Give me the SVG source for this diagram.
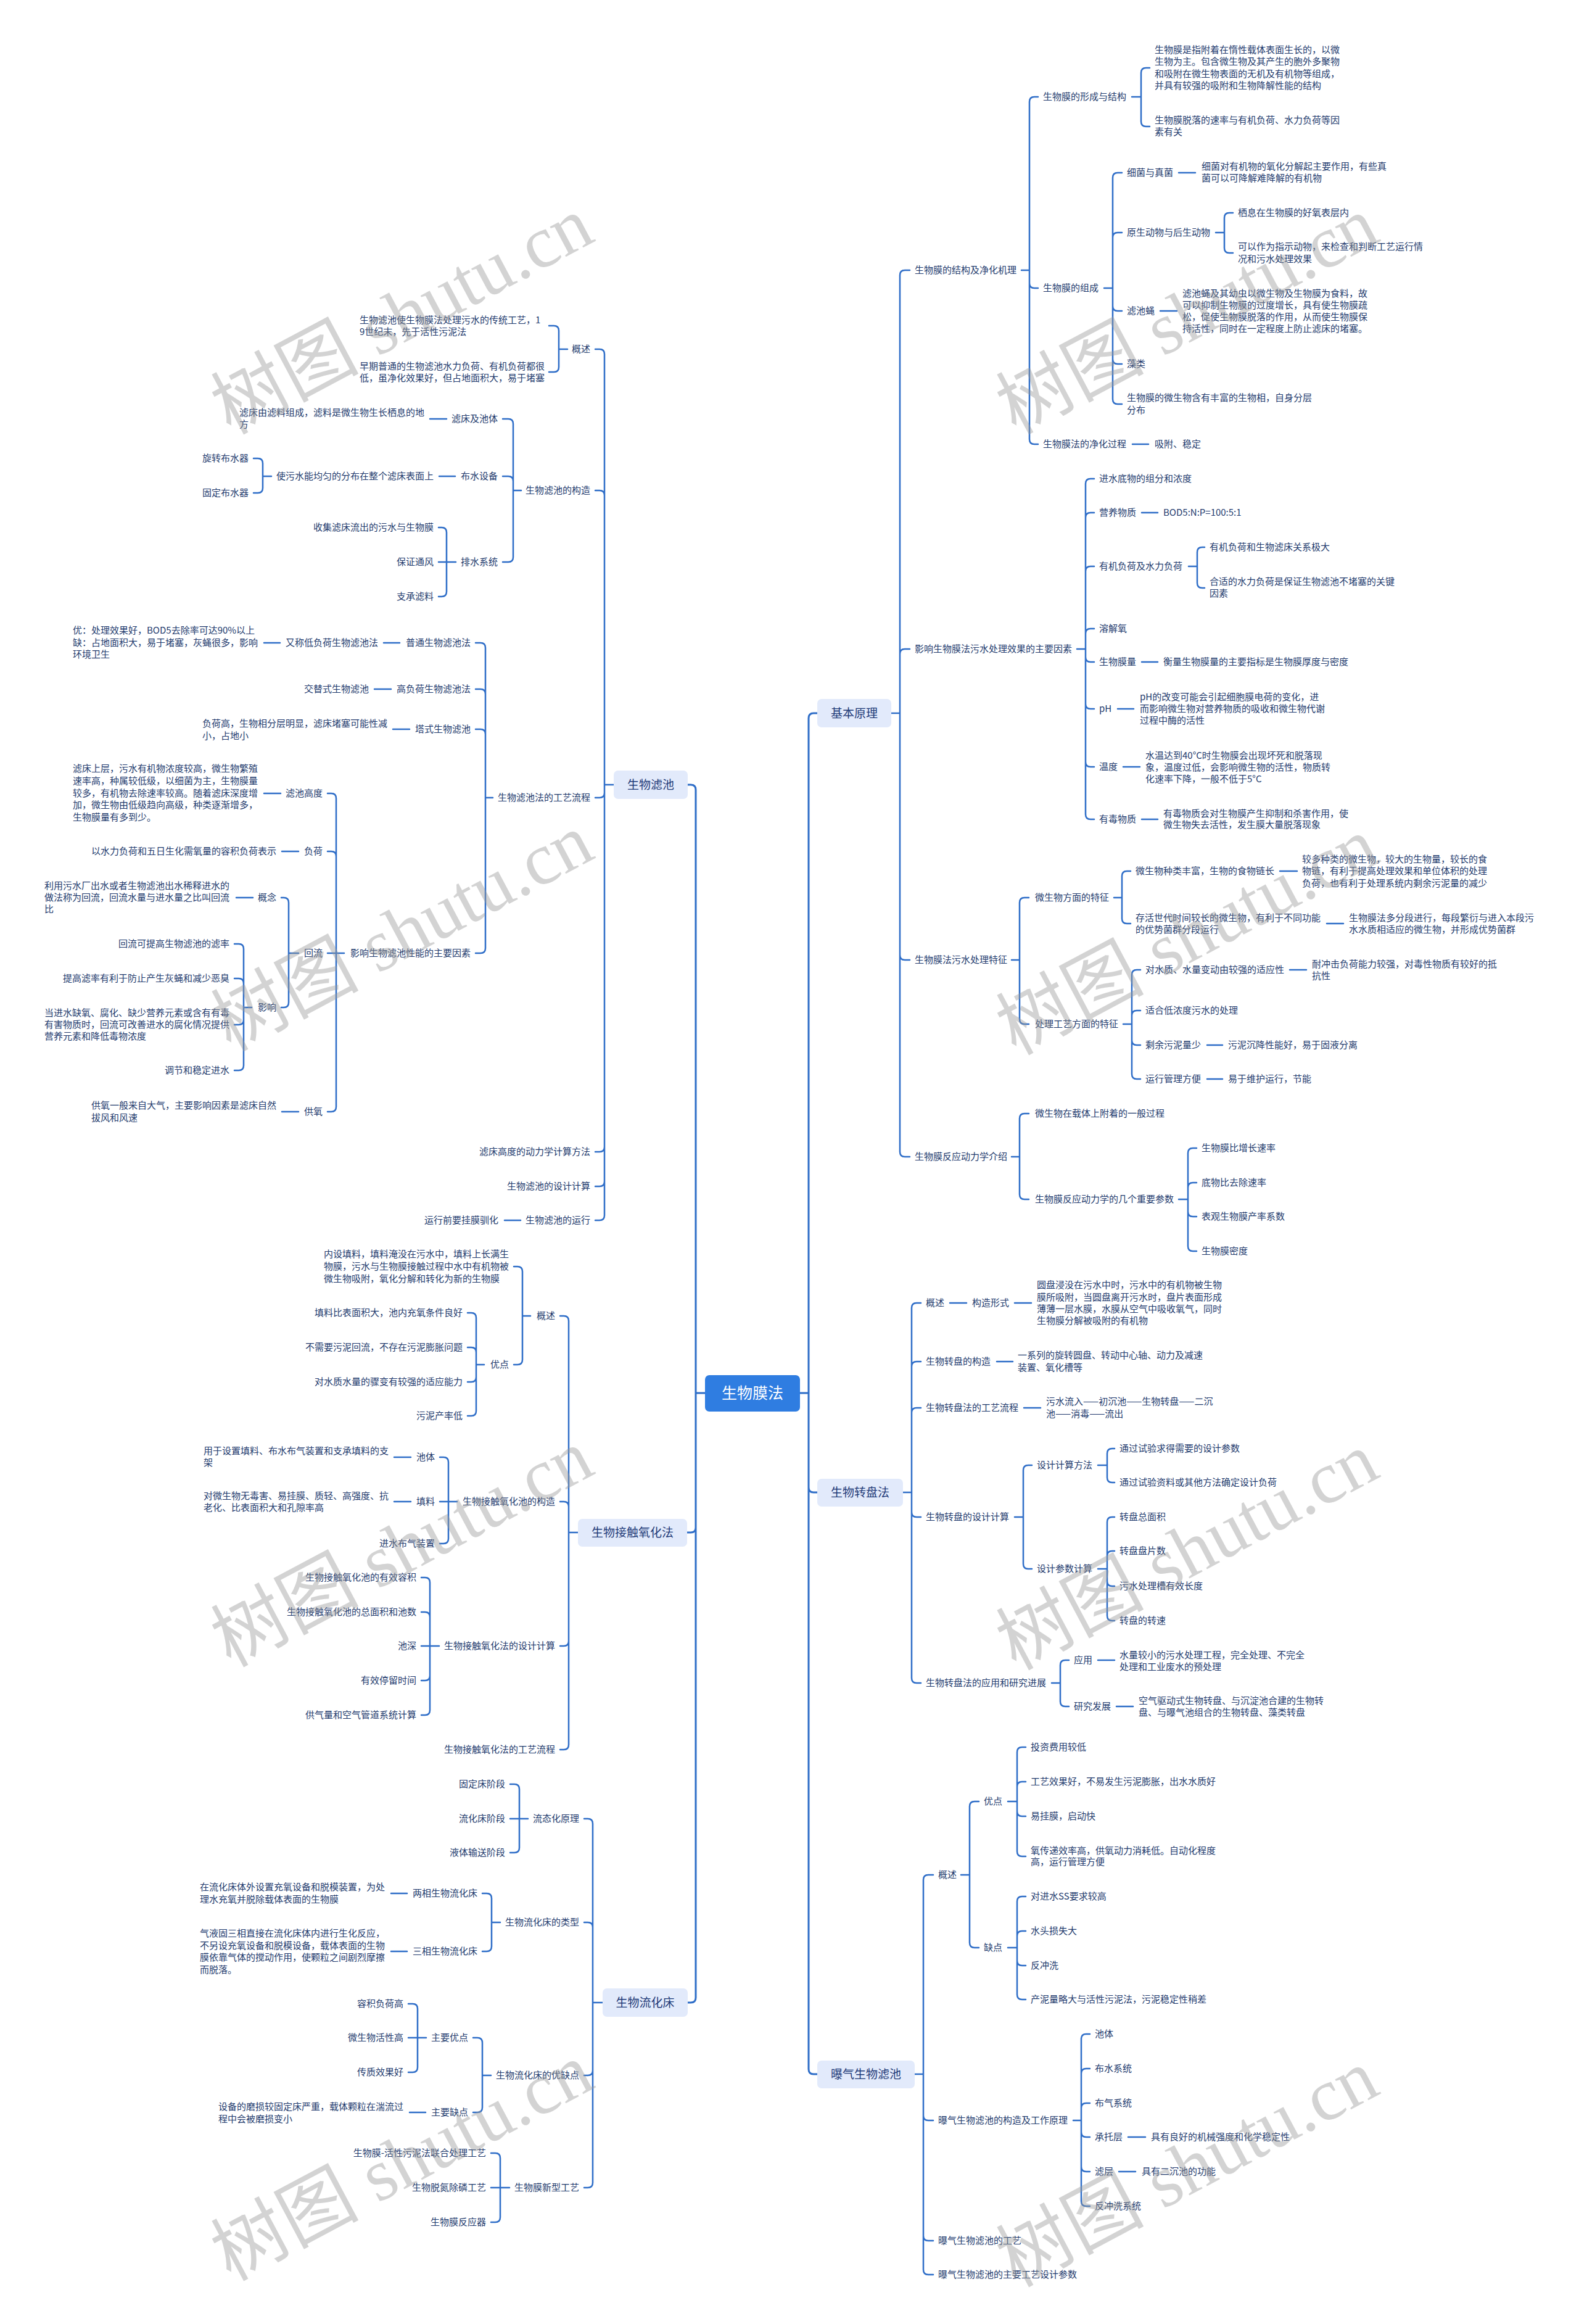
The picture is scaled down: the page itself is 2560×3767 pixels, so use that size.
<svg xmlns="http://www.w3.org/2000/svg" width="2560" height="3767" viewBox="0 0 2560 3767">
<style>
.t{font-family:"Noto Sans CJK SC","Noto Sans",sans-serif;font-size:15px;fill:#233b6e}
.e{text-anchor:end}
.b{font-family:"Noto Sans CJK SC","Noto Sans",sans-serif;font-size:19px;fill:#1f3a78;text-anchor:middle}
.m{font-family:"Noto Sans CJK SC","Noto Sans",sans-serif;font-size:25px;fill:#ffffff;text-anchor:middle}
.bx{fill:#e2eafb}
.c{fill:none;stroke:#2f6ec8;stroke-width:2.5;stroke-linecap:round}
.c3{fill:none;stroke:#2f6ec8;stroke-width:3;stroke-linecap:round}
.w{font-family:"Liberation Serif","Noto Sans CJK SC",serif;font-size:120px;fill:#999999;opacity:0.42;text-anchor:middle}
</style>
<rect x="0" y="0" width="2560" height="3767" fill="#ffffff"/>
<g id="connectors">
<path class="c3" d="M1143 2258 H1128 M1115 1272 H1120 Q1128 1272 1128 1280 V2258 M1114 2484 H1120 Q1128 2484 1128 2476 V2258 M1115 3246 H1120 Q1128 3246 1128 3238 V2258"/>
<path class="c3" d="M1297 2258 H1311 M1325 1156 H1319 Q1311 1156 1311 1164 V2258 M1325 2419 H1319 Q1311 2419 1311 2411 V2258 M1325 3362 H1319 Q1311 3362 1311 3354 V2258"/>
<path class="c" d="M980 1272 H995 M965 566 H972 Q980 566 980 574 V1272 M965 795 H972 Q980 795 980 803 V1272 M965 1293 H972 Q980 1293 980 1285 V1272 M965 1867 H972 Q980 1867 980 1859 V1272 M965 1923 H972 Q980 1923 980 1915 V1272 M965 1978 H972 Q980 1978 980 1970 V1272"/>
<path class="c" d="M906 566 H920 M890 528 H898 Q906 528 906 536 V566 M890 603 H898 Q906 603 906 595 V566"/>
<path class="c" d="M832 795 H845 M815 679 H824 Q832 679 832 687 V795 M815 772 H824 Q832 772 832 780 V795 M815 911 H824 Q832 911 832 903 V795 M724 679 H697 M738 772 H712"/>
<path class="c" d="M426 772 H440 M411 743 H418 Q426 743 426 751 V772 M411 799 H418 Q426 799 426 791 V772"/>
<path class="c" d="M724 911 H739 M711 855 H716 Q724 855 724 863 V911 M711 911 H724 M711 967 H716 Q724 967 724 959 V911"/>
<path class="c" d="M787 1293 H799 M771 1042 H779 Q787 1042 787 1050 V1293 M771 1117 H779 Q787 1117 787 1125 V1293 M771 1182 H779 Q787 1182 787 1190 V1293 M771 1545 H779 Q787 1545 787 1537 V1293 M648 1042 H622 M454 1042 H428 M634 1117 H607 M664 1182 H637"/>
<path class="c" d="M545 1545 H558 M531 1286 H537 Q545 1286 545 1294 V1545 M531 1380 H537 Q545 1380 545 1388 V1545 M531 1545 H545 M531 1802 H537 Q545 1802 545 1794 V1545 M455 1286 H428 M484 1380 H457 M484 1802 H457"/>
<path class="c" d="M468 1545 H484 M456 1455 H460 Q468 1455 468 1463 V1545 M456 1633 H460 Q468 1633 468 1625 V1545 M410 1455 H383"/>
<path class="c" d="M395 1633 H408 M380 1530 H387 Q395 1530 395 1538 V1633 M380 1586 H387 Q395 1586 395 1594 V1633 M380 1661 H387 Q395 1661 395 1653 V1633 M380 1735 H387 Q395 1735 395 1727 V1633"/>
<path class="c" d="M844 1978 H818"/>
<path class="c" d="M922 2484 H937 M908 2133 H914 Q922 2133 922 2141 V2484 M908 2434 H914 Q922 2434 922 2442 V2484 M908 2668 H914 Q922 2668 922 2660 V2484 M908 2836 H914 Q922 2836 922 2828 V2484"/>
<path class="c" d="M847 2133 H860 M833 2053 H839 Q847 2053 847 2061 V2133 M833 2212 H839 Q847 2212 847 2204 V2133"/>
<path class="c" d="M772 2212 H785 M758 2128 H764 Q772 2128 772 2136 V2212 M758 2184 H764 Q772 2184 772 2192 V2212 M758 2240 H764 Q772 2240 772 2232 V2212 M758 2295 H764 Q772 2295 772 2287 V2212"/>
<path class="c" d="M727 2434 H741 M713 2362 H719 Q727 2362 727 2370 V2434 M713 2434 H727 M713 2502 H719 Q727 2502 727 2494 V2434 M666 2362 H639 M666 2434 H639"/>
<path class="c" d="M697 2668 H712 M683 2557 H689 Q697 2557 697 2565 V2668 M683 2613 H689 Q697 2613 697 2621 V2668 M683 2668 H697 M683 2724 H689 Q697 2724 697 2716 V2668 M683 2780 H689 Q697 2780 697 2772 V2668"/>
<path class="c" d="M961 3246 H977 M947 2948 H953 Q961 2948 961 2956 V3246 M947 3116 H953 Q961 3116 961 3124 V3246 M947 3364 H953 Q961 3364 961 3356 V3246 M947 3546 H953 Q961 3546 961 3538 V3246"/>
<path class="c" d="M842 2948 H856 M827 2892 H834 Q842 2892 842 2900 V2948 M827 2948 H842 M827 3003 H834 Q842 3003 842 2995 V2948"/>
<path class="c" d="M797 3116 H811 M782 3069 H789 Q797 3069 797 3077 V3116 M782 3163 H789 Q797 3163 797 3155 V3116 M660 3069 H634 M660 3163 H634"/>
<path class="c" d="M782 3364 H796 M767 3303 H774 Q782 3303 782 3311 V3364 M767 3424 H774 Q782 3424 782 3416 V3364 M690 3424 H664"/>
<path class="c" d="M677 3303 H691 M662 3248 H669 Q677 3248 677 3256 V3303 M662 3303 H677 M662 3359 H669 Q677 3359 677 3351 V3303"/>
<path class="c" d="M811 3546 H826 M796 3490 H803 Q811 3490 811 3498 V3546 M796 3546 H811 M796 3602 H803 Q811 3602 811 3594 V3546"/>
<path class="c" d="M1445 1156 H1459 M1459 1156 V446 Q1459 438 1467 438 H1475 M1459 1156 V1060 Q1459 1052 1467 1052 H1475 M1459 1156 V1548 Q1459 1556 1467 1556 H1475 M1459 1156 V1867 Q1459 1875 1467 1875 H1475"/>
<path class="c" d="M1656 438 H1669 M1669 438 V165 Q1669 157 1677 157 H1683 M1669 438 V459 Q1669 467 1677 467 H1683 M1669 438 V712 Q1669 720 1677 720 H1683 M1836 720 H1862"/>
<path class="c" d="M1835 157 H1850 M1850 157 V118 Q1850 110 1858 110 H1864 M1850 157 V197 Q1850 205 1858 205 H1864"/>
<path class="c" d="M1790 467 H1804 M1804 467 V288 Q1804 280 1812 280 H1819 M1804 467 V385 Q1804 377 1812 377 H1819 M1804 467 V496 Q1804 504 1812 504 H1819 M1804 467 V582 Q1804 590 1812 590 H1819 M1804 467 V647 Q1804 655 1812 655 H1819 M1911 280 H1938 M1881 504 H1908"/>
<path class="c" d="M1971 377 H1985 M1985 377 V353 Q1985 345 1993 345 H1999 M1985 377 V402 Q1985 410 1993 410 H1999"/>
<path class="c" d="M1746 1052 H1760 M1760 1052 V784 Q1760 776 1768 776 H1774 M1760 1052 V839 Q1760 831 1768 831 H1774 M1760 1052 V926 Q1760 918 1768 918 H1774 M1760 1052 V1027 Q1760 1019 1768 1019 H1774 M1760 1052 V1065 Q1760 1073 1768 1073 H1774 M1760 1052 V1141 Q1760 1149 1768 1149 H1774 M1760 1052 V1235 Q1760 1243 1768 1243 H1774 M1760 1052 V1320 Q1760 1328 1768 1328 H1774 M1851 831 H1877 M1851 1073 H1877 M1812 1149 H1838 M1821 1243 H1848 M1851 1328 H1877"/>
<path class="c" d="M1927 918 H1941 M1941 918 V895 Q1941 887 1949 887 H1953 M1941 918 V945 Q1941 953 1949 953 H1953"/>
<path class="c" d="M1640 1556 H1653 M1653 1556 V1463 Q1653 1455 1661 1455 H1668 M1653 1556 V1652 Q1653 1660 1661 1660 H1668"/>
<path class="c" d="M1806 1455 H1819 M1819 1455 V1420 Q1819 1412 1827 1412 H1833 M1819 1455 V1489 Q1819 1497 1827 1497 H1833 M2075 1412 H2103 M2151 1497 H2178"/>
<path class="c" d="M1821 1660 H1835 M1835 1660 V1580 Q1835 1572 1843 1572 H1849 M1835 1660 V1646 Q1835 1638 1843 1638 H1849 M1835 1660 V1686 Q1835 1694 1843 1694 H1849 M1835 1660 V1741 Q1835 1749 1843 1749 H1849 M2091 1572 H2118 M1957 1694 H1982 M1957 1749 H1982"/>
<path class="c" d="M1640 1875 H1653 M1653 1875 V1813 Q1653 1805 1661 1805 H1668 M1653 1875 V1936 Q1653 1944 1661 1944 H1668"/>
<path class="c" d="M1911 1944 H1926 M1926 1944 V1869 Q1926 1861 1934 1861 H1940 M1926 1944 V1925 Q1926 1917 1934 1917 H1940 M1926 1944 V1964 Q1926 1972 1934 1972 H1940 M1926 1944 V2020 Q1926 2028 1934 2028 H1940"/>
<path class="c" d="M1464 2419 H1478 M1478 2419 V2120 Q1478 2112 1486 2112 H1493 M1478 2419 V2215 Q1478 2207 1486 2207 H1493 M1478 2419 V2290 Q1478 2282 1486 2282 H1493 M1478 2419 V2451 Q1478 2459 1486 2459 H1493 M1478 2419 V2720 Q1478 2728 1486 2728 H1493 M1540 2112 H1567 M1645 2112 H1672 M1616 2207 H1642 M1660 2282 H1687"/>
<path class="c" d="M1645 2459 H1659 M1659 2459 V2383 Q1659 2375 1667 2375 H1673 M1659 2459 V2535 Q1659 2543 1667 2543 H1673"/>
<path class="c" d="M1780 2375 H1795 M1795 2375 V2356 Q1795 2348 1803 2348 H1807 M1795 2375 V2395 Q1795 2403 1803 2403 H1807"/>
<path class="c" d="M1780 2543 H1795 M1795 2543 V2467 Q1795 2459 1803 2459 H1807 M1795 2543 V2522 Q1795 2514 1803 2514 H1807 M1795 2543 V2563 Q1795 2571 1803 2571 H1807 M1795 2543 V2619 Q1795 2627 1803 2627 H1807"/>
<path class="c" d="M1705 2728 H1719 M1719 2728 V2699 Q1719 2691 1727 2691 H1733 M1719 2728 V2758 Q1719 2766 1727 2766 H1733 M1780 2691 H1807 M1810 2766 H1837"/>
<path class="c" d="M1483 3362 H1497 M1497 3362 V3047 Q1497 3039 1505 3039 H1513 M1497 3362 V3429 Q1497 3437 1505 3437 H1513 M1497 3362 V3624 Q1497 3632 1505 3632 H1513 M1497 3362 V3679 Q1497 3687 1505 3687 H1513"/>
<path class="c" d="M1558 3039 H1572 M1572 3039 V2928 Q1572 2920 1580 2920 H1587 M1572 3039 V3149 Q1572 3157 1580 3157 H1587"/>
<path class="c" d="M1634 2920 H1649 M1649 2920 V2840 Q1649 2832 1657 2832 H1663 M1649 2920 V2896 Q1649 2888 1657 2888 H1663 M1649 2920 V2936 Q1649 2944 1657 2944 H1663 M1649 2920 V3001 Q1649 3009 1657 3009 H1663"/>
<path class="c" d="M1634 3157 H1649 M1649 3157 V3082 Q1649 3074 1657 3074 H1663 M1649 3157 V3138 Q1649 3130 1657 3130 H1663 M1649 3157 V3178 Q1649 3186 1657 3186 H1663 M1649 3157 V3233 Q1649 3241 1657 3241 H1663"/>
<path class="c" d="M1740 3437 H1753 M1753 3437 V3305 Q1753 3297 1761 3297 H1767 M1753 3437 V3361 Q1753 3353 1761 3353 H1767 M1753 3437 V3417 Q1753 3409 1761 3409 H1767 M1753 3437 V3456 Q1753 3464 1761 3464 H1767 M1753 3437 V3512 Q1753 3520 1761 3520 H1767 M1753 3437 V3568 Q1753 3576 1761 3576 H1767 M1829 3464 H1857 M1814 3520 H1841"/>
</g>
<g id="root"><rect x="1143" y="2229" width="154" height="59" rx="7" fill="#2f7de1"/><text class="m" x="1220" y="2267">生物膜法</text></g>
<g id="b1"><rect class="bx" x="995" y="1249" width="120" height="46" rx="7"/><text class="b" x="1055" y="1279">生物滤池</text></g>
<g id="b2"><rect class="bx" x="937" y="2462" width="177" height="45" rx="7"/><text class="b" x="1025.5" y="2491">生物接触氧化法</text></g>
<g id="b3"><rect class="bx" x="977" y="3223" width="138" height="46" rx="7"/><text class="b" x="1046" y="3253">生物流化床</text></g>
<g id="b4"><rect class="bx" x="1325" y="1133" width="120" height="46" rx="7"/><text class="b" x="1385" y="1163">基本原理</text></g>
<g id="b5"><rect class="bx" x="1325" y="2397" width="139" height="45" rx="7"/><text class="b" x="1394.5" y="2426">生物转盘法</text></g>
<g id="b6"><rect class="bx" x="1325" y="3340" width="158" height="45" rx="7"/><text class="b" x="1404" y="3369">曝气生物滤池</text></g>
<g id="left1">
<g id="n1"><text class="t e" x="957" y="571">概述</text></g>
<g id="n2"><text class="t e" x="957" y="800">生物滤池的构造</text></g>
<g id="n3"><text class="t e" x="957" y="1298">生物滤池法的工艺流程</text></g>
<g id="n4"><text class="t e" x="957" y="1872">滤床高度的动力学计算方法</text></g>
<g id="n5"><text class="t e" x="957" y="1928">生物滤池的设计计算</text></g>
<g id="n6"><text class="t e" x="957" y="1983">生物滤池的运行</text></g>
<g id="n7"><text class="t" x="583" y="524">生物滤池使生物膜法处理污水的传统工艺，1<tspan x="583" y="543">9世纪末，先于活性污泥法</tspan></text></g>
<g id="n8"><text class="t" x="583" y="599">早期普通的生物滤池水力负荷、有机负荷都很<tspan x="583" y="618">低，虽净化效果好，但占地面积大，易于堵塞</tspan></text></g>
<g id="n9"><text class="t e" x="807" y="684">滤床及池体</text></g>
<g id="n10"><text class="t" x="388" y="674">滤床由滤料组成，滤料是微生物生长栖息的地<tspan x="388" y="693">方</tspan></text></g>
<g id="n11"><text class="t e" x="807" y="777">布水设备</text></g>
<g id="n12"><text class="t e" x="703" y="777">使污水能均匀的分布在整个滤床表面上</text></g>
<g id="n13"><text class="t e" x="403" y="748">旋转布水器</text></g>
<g id="n14"><text class="t e" x="403" y="804">固定布水器</text></g>
<g id="n15"><text class="t e" x="807" y="916">排水系统</text></g>
<g id="n16"><text class="t e" x="703" y="860">收集滤床流出的污水与生物膜</text></g>
<g id="n17"><text class="t e" x="703" y="916">保证通风</text></g>
<g id="n18"><text class="t e" x="703" y="972">支承滤料</text></g>
<g id="n19"><text class="t e" x="763" y="1047">普通生物滤池法</text></g>
<g id="n20"><text class="t e" x="613" y="1047">又称低负荷生物滤池法</text></g>
<g id="n21"><text class="t" x="118" y="1027">优：处理效果好，BOD5去除率可达90%以上<tspan x="118" y="1047">缺：占地面积大，易于堵塞，灰蝇很多，影响</tspan><tspan x="118" y="1066">环境卫生</tspan></text></g>
<g id="n22"><text class="t e" x="763" y="1122">高负荷生物滤池法</text></g>
<g id="n23"><text class="t e" x="598" y="1122">交替式生物滤池</text></g>
<g id="n24"><text class="t e" x="763" y="1187">塔式生物滤池</text></g>
<g id="n25"><text class="t" x="328" y="1178">负荷高，生物相分层明显，滤床堵塞可能性减<tspan x="328" y="1198">小，占地小</tspan></text></g>
<g id="n26"><text class="t e" x="763" y="1550">影响生物滤池性能的主要因素</text></g>
<g id="n27"><text class="t e" x="523" y="1291">滤池高度</text></g>
<g id="n28"><text class="t" x="118" y="1251">滤床上层，污水有机物浓度较高，微生物繁殖<tspan x="118" y="1271">速率高，种属较低级，以细菌为主，生物膜量</tspan><tspan x="118" y="1291">较多，有机物去除速率较高。随着滤床深度增</tspan><tspan x="118" y="1310">加，微生物由低级趋向高级，种类逐渐增多，</tspan><tspan x="118" y="1330">生物膜量有多到少。</tspan></text></g>
<g id="n29"><text class="t e" x="523" y="1385">负荷</text></g>
<g id="n30"><text class="t e" x="448" y="1385">以水力负荷和五日生化需氧量的容积负荷表示</text></g>
<g id="n31"><text class="t e" x="523" y="1550">回流</text></g>
<g id="n32"><text class="t e" x="448" y="1460">概念</text></g>
<g id="n33"><text class="t" x="72" y="1441">利用污水厂出水或者生物滤池出水稀释进水的<tspan x="72" y="1460">做法称为回流，回流水量与进水量之比叫回流</tspan><tspan x="72" y="1479">比</tspan></text></g>
<g id="n34"><text class="t e" x="448" y="1638">影响</text></g>
<g id="n35"><text class="t e" x="372" y="1535">回流可提高生物滤池的滤率</text></g>
<g id="n36"><text class="t e" x="372" y="1591">提高滤率有利于防止产生灰蝇和减少恶臭</text></g>
<g id="n37"><text class="t" x="72" y="1647">当进水缺氧、腐化、缺少营养元素或含有有毒<tspan x="72" y="1666">有害物质时，回流可改善进水的腐化情况提供</tspan><tspan x="72" y="1685">营养元素和降低毒物浓度</tspan></text></g>
<g id="n38"><text class="t e" x="372" y="1740">调节和稳定进水</text></g>
<g id="n39"><text class="t e" x="523" y="1807">供氧</text></g>
<g id="n40"><text class="t" x="148" y="1797">供氧一般来自大气，主要影响因素是滤床自然<tspan x="148" y="1817">拔风和风速</tspan></text></g>
<g id="n41"><text class="t e" x="808" y="1983">运行前要挂膜驯化</text></g>
</g>
<g id="left2">
<g id="n42"><text class="t e" x="900" y="2138">概述</text></g>
<g id="n43"><text class="t e" x="900" y="2439">生物接触氧化池的构造</text></g>
<g id="n44"><text class="t e" x="900" y="2673">生物接触氧化法的设计计算</text></g>
<g id="n45"><text class="t e" x="900" y="2841">生物接触氧化法的工艺流程</text></g>
<g id="n46"><text class="t" x="525" y="2038">内设填料，填料淹没在污水中，填料上长满生<tspan x="525" y="2058">物膜，污水与生物膜接触过程中水中有机物被</tspan><tspan x="525" y="2078">微生物吸附，氧化分解和转化为新的生物膜</tspan></text></g>
<g id="n47"><text class="t e" x="825" y="2217">优点</text></g>
<g id="n48"><text class="t e" x="750" y="2133">填料比表面积大，池内充氧条件良好</text></g>
<g id="n49"><text class="t e" x="750" y="2189">不需要污泥回流，不存在污泥膨胀问题</text></g>
<g id="n50"><text class="t e" x="750" y="2245">对水质水量的骤变有较强的适应能力</text></g>
<g id="n51"><text class="t e" x="750" y="2300">污泥产率低</text></g>
<g id="n52"><text class="t e" x="705" y="2367">池体</text></g>
<g id="n53"><text class="t" x="330" y="2357">用于设置填料、布水布气装置和支承填料的支<tspan x="330" y="2376">架</tspan></text></g>
<g id="n54"><text class="t e" x="705" y="2439">填料</text></g>
<g id="n55"><text class="t" x="330" y="2430">对微生物无毒害、易挂膜、质轻、高强度、抗<tspan x="330" y="2449">老化、比表面积大和孔隙率高</tspan></text></g>
<g id="n56"><text class="t e" x="705" y="2507">进水布气装置</text></g>
<g id="n57"><text class="t e" x="675" y="2562">生物接触氧化池的有效容积</text></g>
<g id="n58"><text class="t e" x="675" y="2618">生物接触氧化池的总面积和池数</text></g>
<g id="n59"><text class="t e" x="675" y="2673">池深</text></g>
<g id="n60"><text class="t e" x="675" y="2729">有效停留时间</text></g>
<g id="n61"><text class="t e" x="675" y="2785">供气量和空气管道系统计算</text></g>
</g>
<g id="left3">
<g id="n62"><text class="t e" x="939" y="2953">流态化原理</text></g>
<g id="n63"><text class="t e" x="939" y="3121">生物流化床的类型</text></g>
<g id="n64"><text class="t e" x="939" y="3369">生物流化床的优缺点</text></g>
<g id="n65"><text class="t e" x="939" y="3551">生物膜新型工艺</text></g>
<g id="n66"><text class="t e" x="819" y="2897">固定床阶段</text></g>
<g id="n67"><text class="t e" x="819" y="2953">流化床阶段</text></g>
<g id="n68"><text class="t e" x="819" y="3008">液体输送阶段</text></g>
<g id="n69"><text class="t e" x="774" y="3074">两相生物流化床</text></g>
<g id="n70"><text class="t" x="324" y="3064">在流化床体外设置充氧设备和脱模装置，为处<tspan x="324" y="3084">理水充氧并脱除载体表面的生物膜</tspan></text></g>
<g id="n71"><text class="t e" x="774" y="3168">三相生物流化床</text></g>
<g id="n72"><text class="t" x="324" y="3139">气液固三相直接在流化床体内进行生化反应，<tspan x="324" y="3159">不另设充氧设备和脱模设备，载体表面的生物</tspan><tspan x="324" y="3178">膜依靠气体的搅动作用，使颗粒之间剧烈摩擦</tspan><tspan x="324" y="3198">而脱落。</tspan></text></g>
<g id="n73"><text class="t e" x="759" y="3308">主要优点</text></g>
<g id="n74"><text class="t e" x="654" y="3253">容积负荷高</text></g>
<g id="n75"><text class="t e" x="654" y="3308">微生物活性高</text></g>
<g id="n76"><text class="t e" x="654" y="3364">传质效果好</text></g>
<g id="n77"><text class="t e" x="759" y="3429">主要缺点</text></g>
<g id="n78"><text class="t" x="354" y="3420">设备的磨损较固定床严重，载体颗粒在湍流过<tspan x="354" y="3440">程中会被磨损变小</tspan></text></g>
<g id="n79"><text class="t e" x="788" y="3495">生物膜-活性污泥法联合处理工艺</text></g>
<g id="n80"><text class="t e" x="788" y="3551">生物脱氮除磷工艺</text></g>
<g id="n81"><text class="t e" x="788" y="3607">生物膜反应器</text></g>
</g>
<g id="right1">
<g id="n82"><text class="t" x="1483" y="443">生物膜的结构及净化机理</text></g>
<g id="n83"><text class="t" x="1483" y="1057">影响生物膜法污水处理效果的主要因素</text></g>
<g id="n84"><text class="t" x="1483" y="1561">生物膜法污水处理特征</text></g>
<g id="n85"><text class="t" x="1483" y="1880">生物膜反应动力学介绍</text></g>
<g id="n86"><text class="t" x="1691" y="162">生物膜的形成与结构</text></g>
<g id="n87"><text class="t" x="1691" y="472">生物膜的组成</text></g>
<g id="n88"><text class="t" x="1691" y="725">生物膜法的净化过程</text></g>
<g id="n89"><text class="t" x="1872" y="86">生物膜是指附着在惰性载体表面生长的，以微<tspan x="1872" y="105">生物为主。包含微生物及其产生的胞外多聚物</tspan><tspan x="1872" y="125">和吸附在微生物表面的无机及有机物等组成，</tspan><tspan x="1872" y="144">并具有较强的吸附和生物降解性能的结构</tspan></text></g>
<g id="n90"><text class="t" x="1872" y="200">生物膜脱落的速率与有机负荷、水力负荷等因<tspan x="1872" y="219">素有关</tspan></text></g>
<g id="n91"><text class="t" x="1827" y="285">细菌与真菌</text></g>
<g id="n92"><text class="t" x="1948" y="275">细菌对有机物的氧化分解起主要作用，有些真<tspan x="1948" y="294">菌可以可降解难降解的有机物</tspan></text></g>
<g id="n93"><text class="t" x="1827" y="382">原生动物与后生动物</text></g>
<g id="n94"><text class="t" x="2007" y="350">栖息在生物膜的好氧表层内</text></g>
<g id="n95"><text class="t" x="2007" y="405">可以作为指示动物，来检查和判断工艺运行情<tspan x="2007" y="425">况和污水处理效果</tspan></text></g>
<g id="n96"><text class="t" x="1827" y="509">滤池蝇</text></g>
<g id="n97"><text class="t" x="1917" y="481">滤池蝇及其幼虫以微生物及生物膜为食料，故<tspan x="1917" y="500">可以抑制生物膜的过度增长，具有使生物膜疏</tspan><tspan x="1917" y="519">松，促使生物膜脱落的作用，从而使生物膜保</tspan><tspan x="1917" y="538">持活性，同时在一定程度上防止滤床的堵塞。</tspan></text></g>
<g id="n98"><text class="t" x="1827" y="595">藻类</text></g>
<g id="n99"><text class="t" x="1827" y="650">生物膜的微生物含有丰富的生物相，自身分层<tspan x="1827" y="670">分布</tspan></text></g>
<g id="n100"><text class="t" x="1872" y="725">吸附、稳定</text></g>
<g id="n101"><text class="t" x="1782" y="781">进水底物的组分和浓度</text></g>
<g id="n102"><text class="t" x="1782" y="836">营养物质</text></g>
<g id="n103"><text class="t" x="1886" y="836">BOD5:N:P=100:5:1</text></g>
<g id="n104"><text class="t" x="1782" y="923">有机负荷及水力负荷</text></g>
<g id="n105"><text class="t" x="1961" y="892">有机负荷和生物滤床关系极大</text></g>
<g id="n106"><text class="t" x="1961" y="948">合适的水力负荷是保证生物滤池不堵塞的关键<tspan x="1961" y="967">因素</tspan></text></g>
<g id="n107"><text class="t" x="1782" y="1024">溶解氧</text></g>
<g id="n108"><text class="t" x="1782" y="1078">生物膜量</text></g>
<g id="n109"><text class="t" x="1886" y="1078">衡量生物膜量的主要指标是生物膜厚度与密度</text></g>
<g id="n110"><text class="t" x="1782" y="1154">pH</text></g>
<g id="n111"><text class="t" x="1848" y="1135">pH的改变可能会引起细胞膜电荷的变化，进<tspan x="1848" y="1154">而影响微生物对营养物质的吸收和微生物代谢</tspan><tspan x="1848" y="1173">过程中酶的活性</tspan></text></g>
<g id="n112"><text class="t" x="1782" y="1248">温度</text></g>
<g id="n113"><text class="t" x="1857" y="1230">水温达到40°C时生物膜会出现坏死和脱落现<tspan x="1857" y="1249">象，温度过低，会影响微生物的活性，物质转</tspan><tspan x="1857" y="1268">化速率下降，一般不低于5°C</tspan></text></g>
<g id="n114"><text class="t" x="1782" y="1333">有毒物质</text></g>
<g id="n115"><text class="t" x="1886" y="1324">有毒物质会对生物膜产生抑制和杀害作用，使<tspan x="1886" y="1342">微生物失去活性，发生膜大量脱落现象</tspan></text></g>
<g id="n116"><text class="t" x="1678" y="1460">微生物方面的特征</text></g>
<g id="n117"><text class="t" x="1841" y="1417">微生物种类丰富，生物的食物链长</text></g>
<g id="n118"><text class="t" x="2111" y="1398">较多种类的微生物，较大的生物量，较长的食<tspan x="2111" y="1417">物链，有利于提高处理效果和单位体积的处理</tspan><tspan x="2111" y="1437">负荷，也有利于处理系统内剩余污泥量的减少</tspan></text></g>
<g id="n119"><text class="t" x="1841" y="1493">存活世代时间较长的微生物，有利于不同功能<tspan x="1841" y="1512">的优势菌群分段运行</tspan></text></g>
<g id="n120"><text class="t" x="2187" y="1493">生物膜法多分段进行，每段繁衍与进入本段污<tspan x="2187" y="1512">水水质相适应的微生物，并形成优势菌群</tspan></text></g>
<g id="n121"><text class="t" x="1678" y="1665">处理工艺方面的特征</text></g>
<g id="n122"><text class="t" x="1857" y="1577">对水质、水量变动由较强的适应性</text></g>
<g id="n123"><text class="t" x="2127" y="1568">耐冲击负荷能力较强，对毒性物质有较好的抵<tspan x="2127" y="1587">抗性</tspan></text></g>
<g id="n124"><text class="t" x="1857" y="1643">适合低浓度污水的处理</text></g>
<g id="n125"><text class="t" x="1857" y="1699">剩余污泥量少</text></g>
<g id="n126"><text class="t" x="1991" y="1699">污泥沉降性能好，易于固液分离</text></g>
<g id="n127"><text class="t" x="1857" y="1754">运行管理方便</text></g>
<g id="n128"><text class="t" x="1991" y="1754">易于维护运行，节能</text></g>
<g id="n129"><text class="t" x="1678" y="1810">微生物在载体上附着的一般过程</text></g>
<g id="n130"><text class="t" x="1678" y="1949">生物膜反应动力学的几个重要参数</text></g>
<g id="n131"><text class="t" x="1948" y="1866">生物膜比增长速率</text></g>
<g id="n132"><text class="t" x="1948" y="1922">底物比去除速率</text></g>
<g id="n133"><text class="t" x="1948" y="1977">表观生物膜产率系数</text></g>
<g id="n134"><text class="t" x="1948" y="2033">生物膜密度</text></g>
</g>
<g id="right2">
<g id="n135"><text class="t" x="1501" y="2117">概述</text></g>
<g id="n136"><text class="t" x="1576" y="2117">构造形式</text></g>
<g id="n137"><text class="t" x="1681" y="2088">圆盘浸没在污水中时，污水中的有机物被生物<tspan x="1681" y="2108">膜所吸附，当圆盘离开污水时，盘片表面形成</tspan><tspan x="1681" y="2127">薄薄一层水膜，水膜从空气中吸收氧气，同时</tspan><tspan x="1681" y="2146">生物膜分解被吸附的有机物</tspan></text></g>
<g id="n138"><text class="t" x="1501" y="2212">生物转盘的构造</text></g>
<g id="n139"><text class="t" x="1650" y="2202">一系列的旋转圆盘、转动中心轴、动力及减速<tspan x="1650" y="2222">装置、氧化槽等</tspan></text></g>
<g id="n140"><text class="t" x="1501" y="2287">生物转盘法的工艺流程</text></g>
<g id="n141"><text class="t" x="1696" y="2277">污水流入——初沉池——生物转盘——二沉<tspan x="1696" y="2297">池——消毒——流出</tspan></text></g>
<g id="n142"><text class="t" x="1501" y="2464">生物转盘的设计计算</text></g>
<g id="n143"><text class="t" x="1681" y="2380">设计计算方法</text></g>
<g id="n144"><text class="t" x="1815" y="2353">通过试验求得需要的设计参数</text></g>
<g id="n145"><text class="t" x="1815" y="2408">通过试验资料或其他方法确定设计负荷</text></g>
<g id="n146"><text class="t" x="1681" y="2548">设计参数计算</text></g>
<g id="n147"><text class="t" x="1815" y="2464">转盘总面积</text></g>
<g id="n148"><text class="t" x="1815" y="2519">转盘盘片数</text></g>
<g id="n149"><text class="t" x="1815" y="2576">污水处理槽有效长度</text></g>
<g id="n150"><text class="t" x="1815" y="2632">转盘的转速</text></g>
<g id="n151"><text class="t" x="1501" y="2733">生物转盘法的应用和研究进展</text></g>
<g id="n152"><text class="t" x="1741" y="2696">应用</text></g>
<g id="n153"><text class="t" x="1815" y="2688">水量较小的污水处理工程，完全处理、不完全<tspan x="1815" y="2707">处理和工业废水的预处理</tspan></text></g>
<g id="n154"><text class="t" x="1741" y="2771">研究发展</text></g>
<g id="n155"><text class="t" x="1846" y="2762">空气驱动式生物转盘、与沉淀池合建的生物转<tspan x="1846" y="2781">盘、与曝气池组合的生物转盘、藻类转盘</tspan></text></g>
</g>
<g id="right3">
<g id="n156"><text class="t" x="1521" y="3044">概述</text></g>
<g id="n157"><text class="t" x="1595" y="2925">优点</text></g>
<g id="n158"><text class="t" x="1671" y="2837">投资费用较低</text></g>
<g id="n159"><text class="t" x="1671" y="2893">工艺效果好，不易发生污泥膨胀，出水水质好</text></g>
<g id="n160"><text class="t" x="1671" y="2949">易挂膜，启动快</text></g>
<g id="n161"><text class="t" x="1671" y="3005">氧传递效率高，供氧动力消耗低。自动化程度<tspan x="1671" y="3023">高，运行管理方便</tspan></text></g>
<g id="n162"><text class="t" x="1595" y="3162">缺点</text></g>
<g id="n163"><text class="t" x="1671" y="3079">对进水SS要求较高</text></g>
<g id="n164"><text class="t" x="1671" y="3135">水头损失大</text></g>
<g id="n165"><text class="t" x="1671" y="3191">反冲洗</text></g>
<g id="n166"><text class="t" x="1671" y="3246">产泥量略大与活性污泥法，污泥稳定性稍差</text></g>
<g id="n167"><text class="t" x="1521" y="3442">曝气生物滤池的构造及工作原理</text></g>
<g id="n168"><text class="t" x="1775" y="3302">池体</text></g>
<g id="n169"><text class="t" x="1775" y="3358">布水系统</text></g>
<g id="n170"><text class="t" x="1775" y="3414">布气系统</text></g>
<g id="n171"><text class="t" x="1775" y="3469">承托层</text></g>
<g id="n172"><text class="t" x="1866" y="3469">具有良好的机械强度和化学稳定性</text></g>
<g id="n173"><text class="t" x="1775" y="3525">滤层</text></g>
<g id="n174"><text class="t" x="1851" y="3525">具有二沉池的功能</text></g>
<g id="n175"><text class="t" x="1775" y="3581">反冲洗系统</text></g>
<g id="n176"><text class="t" x="1521" y="3637">曝气生物滤池的工艺</text></g>
<g id="n177"><text class="t" x="1521" y="3692">曝气生物滤池的主要工艺设计参数</text></g>
</g>
<g id="watermarks">
<text class="w" transform="translate(652 512) rotate(-28)" y="40">树图 shutu.cn</text>
<text class="w" transform="translate(1925 512) rotate(-28)" y="40">树图 shutu.cn</text>
<text class="w" transform="translate(652 1512) rotate(-28)" y="40">树图 shutu.cn</text>
<text class="w" transform="translate(1925 1518) rotate(-28)" y="40">树图 shutu.cn</text>
<text class="w" transform="translate(652 2510) rotate(-28)" y="40">树图 shutu.cn</text>
<text class="w" transform="translate(1925 2515) rotate(-28)" y="40">树图 shutu.cn</text>
<text class="w" transform="translate(652 3505) rotate(-28)" y="40">树图 shutu.cn</text>
<text class="w" transform="translate(1925 3515) rotate(-28)" y="40">树图 shutu.cn</text>
</g>
</svg>
